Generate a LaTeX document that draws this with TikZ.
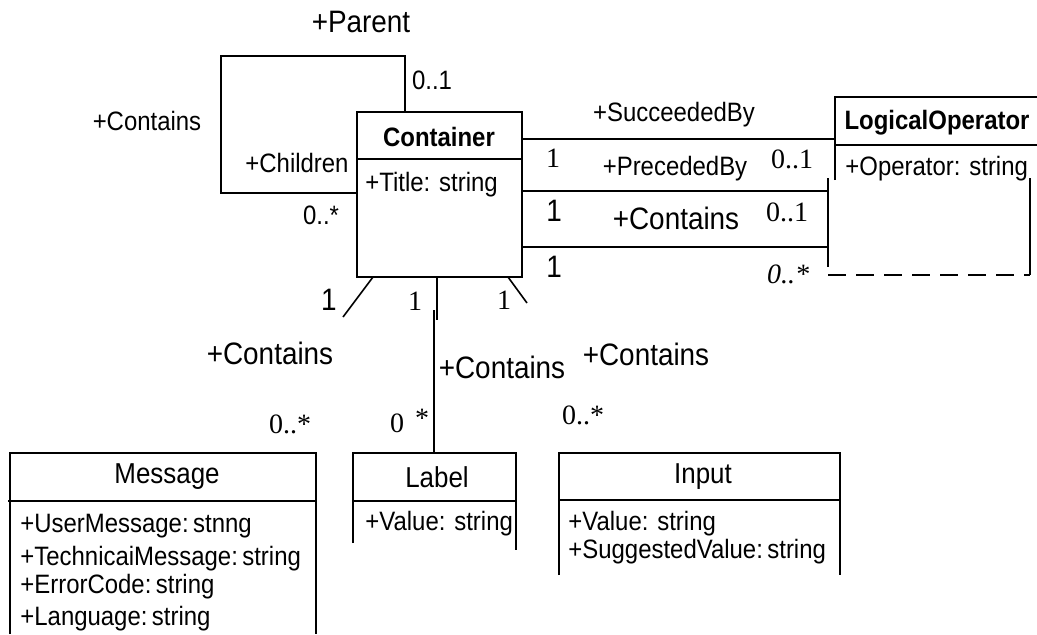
\documentclass[tikz,border=0pt]{standalone}
\usepackage{fontspec}
\setmainfont[FakeStretch=0.9]{Liberation Sans}
\newfontfamily\numfont{Liberation Serif}
\usepackage{tikz}
\usetikzlibrary{positioning}

\begin{document}
\begin{tikzpicture}[x=0.5pt,y=-0.5pt,
	role/.style={inner sep=0pt,font=\fontsize{13.3}{15}\selectfont},
	bigrole/.style={inner sep=0pt,font=\fontsize{15.5}{17}\selectfont},
	mult/.style={inner sep=0pt,font=\numfont\fontsize{14}{16}\selectfont},
	one/.style={inner sep=0pt,font=\fontsize{15.5}{17}\selectfont},
	attr/.style={inner sep=0pt,anchor=base west,font=\fontsize{13.3}{15}\selectfont},
	title/.style={inner sep=0pt,font=\bfseries\fontsize{13.3}{15}\selectfont},
	head/.style={inner sep=0pt,font=\fontsize{14.4}{16}\selectfont},
	thinline/.style={line width=0.8pt},
	assoc/.style={line width=1.4pt},
	boxline/.style={line width=1.2pt}]
	\useasboundingbox (0,0) rectangle (1037,634);

	% Container class
	\coordinate (ctrNW) at (357,112);
	\coordinate (ctrSE) at (522,277);
	\draw[thinline] (ctrNW) rectangle (ctrSE);
	\draw[thinline] (357,159) -- (522,159);
	\node[title] (ctrName) at (439,137) {Container};
	\node[attr] (ctrTitle) at (365,191) {+Title: string};

	% self association
	\coordinate (ctrTop) at (405,112);
	\coordinate (ctrLeft) at (357,193);
	\coordinate (loopNW) at (221,56);
	\draw[thinline] (ctrTop) |- (loopNW) |- (ctrLeft);
	\node[bigrole] (parent) at (361,22) {+Parent};
	\node[role] (parentMult) at (432,80) {0..1};
	\node[role] (loopRole) at (147,121) {+Contains};
	\node[role] (children) at (297,163) {+Children};
	\node[role] (childMult) at (321,215) {0..*};

	% LogicalOperator class
	\draw[thinline] (835,180) |- (1037,97);
	\draw[thinline] (835,145) -- (1037,145);
	\node[title] (opName) at (937,123) {LogicalOperator};
	\node[attr] (opAttr) at (845,175) {+Operator: string};
	\coordinate (opLeftA) at (828,178);
	\coordinate (opLeftB) at (828,267);
	\coordinate (opRightA) at (1030,178);
	\coordinate (opDashL) at (828,275);
	\coordinate (opDashR) at (1030,275);
	\draw[assoc] (opLeftA) -- (opLeftB);
	\draw[assoc] (opRightA) -- (opDashR);
	% \draw dashed line
	\draw[assoc, dash pattern=on 9pt off 5pt] (opDashL) -- (opDashR);

	% associations to LogicalOperator
	\coordinate (succA) at (522,139);
	\coordinate (succB) at (835,139);
	\coordinate (precA) at (522,191);
	\coordinate (precB) at (828,191);
	\coordinate (contA) at (522,247);
	\coordinate (contB) at (828,247);
	\draw[thinline] (succA) -- (succB);
	\draw[assoc] (precA) -- (precB);
	\draw[assoc] (contA) -- (contB);
	\draw[assoc] (522,139) -- (ctrSE);

	\node[role] (succ) at (674,115) {+SucceededBy};
	\node[mult] (succOne) at (553,158) {1};
	\node[role] (prec) at (675,169) {+PrecededBy};
	\node[mult] (precMult) at (792,159) {0..1};
	\node[one] (precOne) at (554,211) {1};
	\node[bigrole] (cont) at (676,218) {+Contains};
	\node[mult] (contMult) at (787,212) {0..1};
	\node[one] (contOne) at (554,267) {1};
	\node[mult, font=\numfont\itshape\fontsize{14}{16}\selectfont] (opMult) at (788,274) {0..*};

	% Message class
	\draw[boxline] (10,634) |- (316,453) -- (316,634);
	\draw[boxline] (8,501) -- (316,501);
	\node[head] (msgName) at (167,477) {Message};
	\node[attr] (msgA) at (20,532) {+UserMessage:\,stnng};
	\node[attr] (msgB) at (20,565) {+TechnicaiMessage:\,string};
	\node[attr] (msgC) at (20,593) {+ErrorCode:\,string};
	\node[attr] (msgD) at (20,625) {+Language:\,string};

	% Label class
	\coordinate (lblTop) at (434,453);
	\draw[boxline] (353,543) |- (516,453) -- (516,550);
	\draw[boxline] (353,501) -- (516,501);
	\node[head] (lblName) at (437,477) {Label};
	\node[attr] (lblA) at (365,530) {+Value: string};

	% Input class
	\draw[boxline] (559,575) |- (840,453) -- (840,575);
	\draw[boxline] (559,500) -- (840,500);
	\node[head] (inName) at (703,477) {Input};
	\node[attr] (inA) at (568,530) {+Value: string};
	\node[attr] (inB) at (568,558) {+SuggestedValue:\,string};

	% associations below Container
	\coordinate (msgFrom) at (373,277);
	\coordinate (msgTo) at (343,317);
	\coordinate (lblFrom) at (437,277);
	\coordinate (lblTo) at (437,320);
	\coordinate (lblStub) at (434,310);
	\coordinate (inFrom) at (508,277);
	\coordinate (inTo) at (527,303);
	\draw[thinline] (msgFrom) -- (msgTo);
	\draw[assoc] (lblFrom) -- (lblTo);
	\draw[assoc] (lblStub) -- (lblTop);
	\draw[thinline] (inFrom) -- (inTo);

	\node[one] (msgOne) at (329,300) {1};
	\node[mult] (lblOne) at (415,301) {1};
	\node[mult] (inOne) at (504,300) {1};
	\node[bigrole] (msgRole) at (270,353) {+Contains};
	\node[bigrole] (lblRole) at (502,367) {+Contains};
	\node[bigrole] (inRole) at (646,354) {+Contains};
	\node[mult] (msgMult) at (290,424) {0..*};
	\node[mult] (lblZero) at (397,423) {0};
	\node[mult] (lblStar) at (422,418) {*};
	\node[mult] (inMult) at (583,415) {0..*};
\end{tikzpicture}
\end{document}
